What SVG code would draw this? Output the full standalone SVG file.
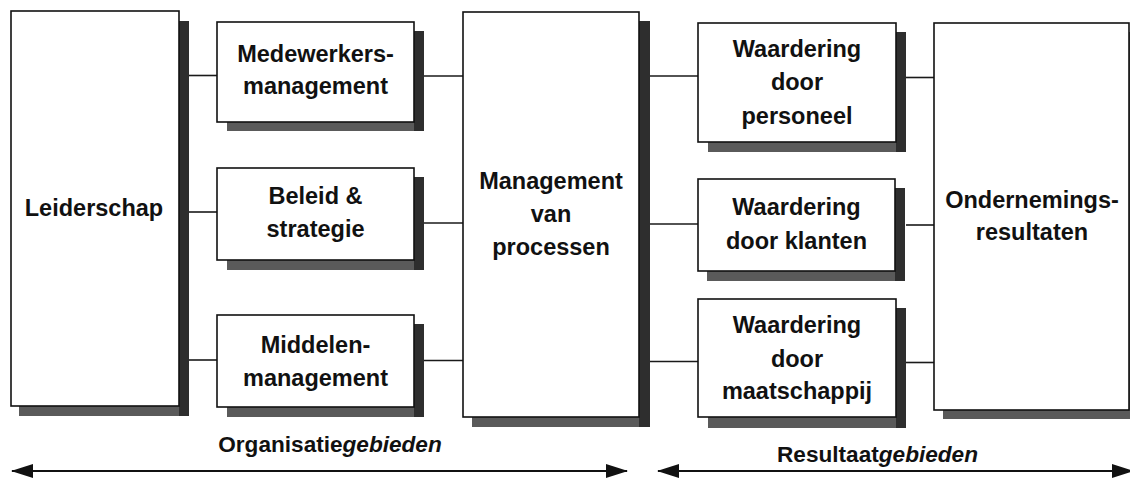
<svg xmlns="http://www.w3.org/2000/svg" width="1130" height="479" viewBox="0 0 1130 479">
<style>
  .box { fill: #ffffff; stroke: #111111; stroke-width: 1.6; }
  .shb { fill: #5a5a5a; }
  .shr { fill: #2e2e2e; }
  .lbl { font-family: "Liberation Sans", Arial, sans-serif; font-weight: bold; font-size: 23.5px; fill: #111111; text-anchor: middle; }
  .cap { font-family: "Liberation Sans", Arial, sans-serif; font-weight: bold; font-size: 22.6px; fill: #111111; text-anchor: middle; }
  .it { font-style: italic; }
  .con { stroke: #1a1a1a; stroke-width: 1.6; fill: none; }
  .arr { stroke: #111111; stroke-width: 2; fill: none; }
</style>
<defs>
  <marker id="ah" viewBox="0 0 22 14" refX="21" refY="7" markerWidth="22" markerHeight="14" markerUnits="userSpaceOnUse" orient="auto-start-reverse">
    <path d="M0,0 L22,7 L0,14 Z" fill="#111111"/>
  </marker>
</defs>
<rect width="1130" height="479" fill="#ffffff"/>

<g id="connectors">
  <line class="con" x1="189" y1="75.5" x2="217" y2="75.5"/>
  <line class="con" x1="189" y1="212" x2="217" y2="212"/>
  <line class="con" x1="189" y1="360" x2="217" y2="360"/>
  <line class="con" x1="424" y1="76" x2="463" y2="76"/>
  <line class="con" x1="424" y1="223" x2="463" y2="223"/>
  <line class="con" x1="424" y1="360.5" x2="463" y2="360.5"/>
  <line class="con" x1="650" y1="76" x2="698" y2="76"/>
  <line class="con" x1="650" y1="224" x2="698" y2="224"/>
  <line class="con" x1="650" y1="361.5" x2="698" y2="361.5"/>
  <line class="con" x1="906" y1="77.5" x2="934" y2="77.5"/>
  <line class="con" x1="906" y1="225" x2="934" y2="225"/>
  <line class="con" x1="906" y1="362.5" x2="934" y2="362.5"/>
  <line class="arr" x1="12" y1="471" x2="627" y2="471" marker-start="url(#ah)" marker-end="url(#ah)"/>
  <line class="arr" x1="658" y1="471" x2="1133" y2="471" marker-start="url(#ah)" marker-end="url(#ah)"/>
</g>

<g id="leiderschap">
  <rect class="shb" x="19" y="21" width="170" height="395"/>
  <rect class="shr" x="179" y="21" width="10" height="395"/>
  <rect class="box" x="11" y="11" width="168" height="395"/>
  <text class="lbl" x="94" y="216">Leiderschap</text>
</g>

<g id="medewerkers">
  <rect class="shb" x="227" y="31" width="197" height="100"/>
  <rect class="shr" x="414" y="31" width="10" height="100"/>
  <rect class="box" x="217" y="22" width="197" height="100"/>
  <text class="lbl" x="315.5" y="62">Medewerkers-</text>
  <text class="lbl" x="315.5" y="94">management</text>
</g>

<g id="beleid">
  <rect class="shb" x="227" y="177" width="197" height="93"/>
  <rect class="shr" x="414" y="177" width="10" height="93"/>
  <rect class="box" x="217" y="168" width="197" height="92"/>
  <text class="lbl" x="315.5" y="204">Beleid &amp;</text>
  <text class="lbl" x="315.5" y="237">strategie</text>
</g>

<g id="middelen">
  <rect class="shb" x="227" y="324" width="197" height="93"/>
  <rect class="shr" x="414" y="324" width="10" height="93"/>
  <rect class="box" x="217" y="315" width="197" height="92"/>
  <text class="lbl" x="315.5" y="353">Middelen-</text>
  <text class="lbl" x="315.5" y="386">management</text>
</g>

<g id="processen">
  <rect class="shb" x="472" y="21" width="178" height="406"/>
  <rect class="shr" x="639" y="21" width="11" height="406"/>
  <rect class="box" x="463" y="12" width="176" height="405"/>
  <text class="lbl" x="551" y="188.5">Management</text>
  <text class="lbl" x="551" y="222">van</text>
  <text class="lbl" x="551" y="255">processen</text>
</g>

<g id="personeel">
  <rect class="shb" x="708" y="32" width="198" height="120"/>
  <rect class="shr" x="896" y="32" width="10" height="120"/>
  <rect class="box" x="698" y="23" width="198" height="119"/>
  <text class="lbl" x="797" y="57">Waardering</text>
  <text class="lbl" x="797" y="90">door</text>
  <text class="lbl" x="797" y="123.5">personeel</text>
</g>

<g id="klanten">
  <rect class="shb" x="707" y="188" width="198" height="93"/>
  <rect class="shr" x="895" y="188" width="10" height="93"/>
  <rect class="box" x="698" y="179" width="197" height="92"/>
  <text class="lbl" x="796.5" y="215">Waardering</text>
  <text class="lbl" x="796.5" y="248.5">door klanten</text>
</g>

<g id="maatschappij">
  <rect class="shb" x="708" y="308" width="198" height="120"/>
  <rect class="shr" x="896" y="308" width="10" height="120"/>
  <rect class="box" x="698" y="299" width="198" height="118"/>
  <text class="lbl" x="797" y="333">Waardering</text>
  <text class="lbl" x="797" y="366.5">door</text>
  <text class="lbl" x="797" y="398.5">maatschappij</text>
</g>

<g id="ondernemingsresultaten">
  <rect class="shb" x="943" y="32" width="200" height="387"/>
  <rect class="box" x="934" y="23" width="195" height="387"/>
  <text class="lbl" x="1032" y="207.5">Ondernemings-</text>
  <text class="lbl" x="1032" y="240">resultaten</text>
</g>

<g id="labels">
  <text class="cap" x="330" y="452">Organisatie<tspan class="it">gebieden</tspan></text>
  <text class="cap" x="877.5" y="462">Resultaat<tspan class="it">gebieden</tspan></text>
</g>
</svg>
